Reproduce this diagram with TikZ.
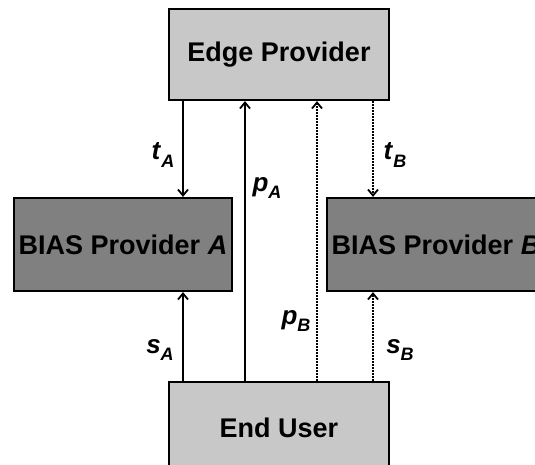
\documentclass[tikz,border=0pt]{standalone}
\usepackage{fontspec}
\setmainfont{Liberation Sans}
\usetikzlibrary{arrows.meta}

\definecolor{lightbox}{RGB}{200,200,200}
\definecolor{darkbox}{RGB}{128,128,128}

\newcommand{\msg}[2]{\textbf{\textit{#1}}\raisebox{-0.3em}{\fontsize{18}{18}\selectfont\textbf{\textit{#2}}}}

\tikzset{
  party/.style={draw, line width=2.2pt, fill=lightbox, minimum width=220pt, minimum height=91pt,
    font=\fontsize{27}{30}\selectfont\bfseries},
  bias/.style={party, fill=darkbox, minimum width=218pt, minimum height=93pt},
  flow/.style={line width=2pt, -{Straight Barb[length=6pt,width=10pt,line width=1.8pt]}},
  dflow/.style={flow, dash pattern=on 1.6pt off 1.4pt},
  lbl/.style={font=\fontsize{26}{28}\selectfont, inner sep=0pt}
}

\begin{document}
\begin{tikzpicture}[x=1pt,y=-1pt]
  \useasboundingbox (0,0) rectangle (535,464);
  \clip (0,0) rectangle (535,464);

  \node[party] (E) at (279,54.5) {Edge Provider};
  \node[bias] (A) at (123,244.5) {BIAS Provider \textit{A}};
  \node[bias] (B) at (436,244.5) {BIAS Provider \textit{B}};
  \node[party] (U) at (279,427.5) {End User};

  \draw[flow] (E.south -| 183,0) -- (A.north -| 183,0);
  \draw[flow] (U.north -| 183,0) -- (A.south -| 183,0);
  \draw[flow] (U.north -| 245,0) -- (E.south -| 245,0);
  \draw[dflow] (U.north -| 317,0) -- (E.south -| 317,0);
  \draw[dflow] (E.south -| 373,0) -- (B.north -| 373,0);
  \draw[dflow] (U.north -| 373,0) -- (B.south -| 373,0);

  \node[lbl] (tA) at (163,155) {\msg{t}{A}};
  \node[lbl] (pA) at (267,188) {\msg{p}{A}};
  \node[lbl] (tB) at (395,155) {\msg{t}{B}};
  \node[lbl] (pB) at (296,321) {\msg{p}{B}};
  \node[lbl] (sA) at (160,350) {\msg{s}{A}};
  \node[lbl] (sB) at (400,350) {\msg{s}{B}};
\end{tikzpicture}
\end{document}
